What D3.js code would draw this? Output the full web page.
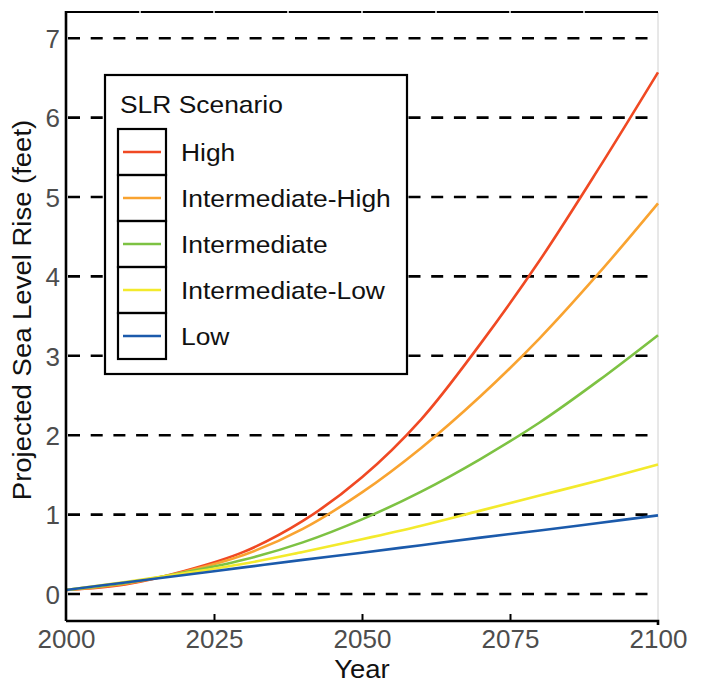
<!DOCTYPE html>
<html lang="en">
<head>
<meta charset="UTF-8">
<title>SLR Scenarios</title>
<script src="https://cdn.jsdelivr.net/npm/d3@7"></script>
<style>
  body { margin: 0; background: #fff; }
  text { font-family: 'Liberation Sans', Arial, sans-serif; }
</style>
</head>
<body>
<div id="chart"></div>
<script>
// data (feet)
const years = [2000, 2010, 2020, 2030, 2040, 2050, 2060, 2070, 2080, 2090, 2100]
const high    = [0.05, 0.12, 0.29, 0.53, 0.92, 1.47, 2.20, 3.15, 4.20, 5.36, 6.57]
const intHigh = [0.05, 0.13, 0.28, 0.49, 0.82, 1.28, 1.84, 2.49, 3.22, 4.04, 4.92]
const inter   = [0.05, 0.14, 0.27, 0.43, 0.65, 0.94, 1.29, 1.70, 2.16, 2.69, 3.26]
const intLow  = [0.05, 0.15, 0.26, 0.38, 0.53, 0.69, 0.86, 1.05, 1.24, 1.43, 1.63]
const low     = [0.05, 0.145, 0.24, 0.335, 0.43, 0.52, 0.615, 0.71, 0.80, 0.895, 0.99]

const names = ["High", "Intermediate-High", "Intermediate", "Intermediate-Low", "Low"]
const colors = ["#f04923", "#f9a330", "#7dc243", "#f3ea2c", "#1b5aab"]
const series = [high, intHigh, inter, intLow, low]

const xTicks = [2000, 2025, 2050, 2075, 2100]
const yTicks = [0, 1, 2, 3, 4, 5, 6, 7]
const topGaps = [2012.5, 2025, 2037.5, 2050, 2062.5, 2075, 2087.5]

const width = 704, height = 683
const margin = { top: 12, right: 46, bottom: 62, left: 66 }
const stretch = 1.1   // text in the original is a bit wide

const x = d3.scaleLinear().domain([2000, 2100]).range([margin.left, width - margin.right])
const y = d3.scaleLinear().domain([-0.34, 7.33]).range([height - margin.bottom, margin.top])

const svg = d3.select("#chart").append("svg")
    .attr("width", width)
    .attr("height", height)

// dashed gridlines
svg.append("g")
    .selectAll("line")
    .data(yTicks)
    .enter().append("line")
    .attr("x1", x(2000) + 2)
    .attr("x2", x(2100) - 8)
    .attr("y1", d => y(d))
    .attr("y2", d => y(d))
    .attr("stroke", "#000")
    .attr("stroke-width", 2.6)
    .attr("stroke-dasharray", "12,10.7")

// right border, light grey
svg.append("line")
    .attr("x1", x(2100)).attr("x2", x(2100))
    .attr("y1", y.range()[1]).attr("y2", y.range()[0])
    .attr("stroke", "#d0d0d0")
    .attr("stroke-width", 1)

// top border with small white gaps
svg.append("line")
    .attr("x1", x(2000)).attr("x2", x(2100))
    .attr("y1", margin.top).attr("y2", margin.top)
    .attr("stroke", "#000")
    .attr("stroke-width", 2)
svg.append("g")
    .selectAll("line")
    .data(topGaps)
    .enter().append("line")
    .attr("x1", d => x(d)).attr("x2", d => x(d))
    .attr("y1", margin.top - 2).attr("y2", margin.top + 2)
    .attr("stroke", "#fff")
    .attr("stroke-width", 1.5)

// curves
const line = d3.line()
    .x((d, i) => x(years[i]))
    .y(d => y(d))
    .curve(d3.curveCatmullRom.alpha(0.5))

svg.append("g")
    .selectAll("path")
    .data(series)
    .enter().append("path")
    .attr("d", line)
    .attr("fill", "none")
    .attr("stroke", (d, i) => colors[i])
    .attr("stroke-width", 2.6)

// bottom axis
const xAxis = svg.append("g")
    .attr("transform", `translate(0,${height - margin.bottom})`)
    .call(d3.axisBottom(x).tickValues(xTicks).tickFormat(d3.format("d")).tickSize(-7))
xAxis.select(".domain").attr("stroke-width", 2.6).attr("d", `M${x(2000)},0H${x(2100)}V4`)
xAxis.selectAll(".tick line").attr("stroke-width", 2)
    .filter(d => d === 2000 || d === 2100).remove()
xAxis.selectAll(".tick text")
    .attr("font-size", 26).attr("fill", "#4d4d4d")
    .attr("font-family", "'Liberation Sans', Arial, sans-serif")
    .attr("y", 27).attr("dy", 0)

// left axis
const yAxis = svg.append("g")
    .attr("transform", `translate(${margin.left},0)`)
    .call(d3.axisLeft(y).tickValues(yTicks).tickSize(0).tickPadding(6))
yAxis.select(".domain").attr("stroke-width", 2.6)
    .attr("d", `M0,${y.range()[0]}V${y.range()[1] - 1}`)
yAxis.selectAll(".tick text")
    .attr("font-size", 26).attr("fill", "#4d4d4d")
    .attr("font-family", "'Liberation Sans', Arial, sans-serif")
    .attr("dy", "0.36em")

// axis titles
svg.append("text")
    .attr("transform", `translate(${x(2050)},678) scale(${stretch},1)`)
    .attr("text-anchor", "middle")
    .attr("font-size", 25)
    .attr("fill", "#111")
    .text("Year")

svg.append("text")
    .attr("transform", `translate(31,310) rotate(-90) scale(${stretch},1)`)
    .attr("text-anchor", "middle")
    .attr("font-size", 25)
    .attr("fill", "#111")
    .text("Projected Sea Level Rise (feet)")

// legend
const legend = svg.append("g")
legend.append("rect")
    .attr("x", 105).attr("y", 75)
    .attr("width", 302).attr("height", 299)
    .attr("fill", "#fff")
    .attr("stroke", "#000")
    .attr("stroke-width", 2.2)

legend.append("text")
    .attr("transform", `translate(120,113) scale(${stretch},1)`)
    .attr("font-size", 24)
    .attr("fill", "#111")
    .text("SLR Scenario")

const rowH = 46
const rows = legend.selectAll("g.row")
    .data(names)
    .enter().append("g")
    .attr("class", "row")
    .attr("transform", (d, i) => `translate(0,${129 + i * rowH})`)

rows.append("rect")
    .attr("x", 118).attr("y", 0)
    .attr("width", 48).attr("height", rowH)
    .attr("fill", "none")
    .attr("stroke", "#000")
    .attr("stroke-width", 2.2)

rows.append("line")
    .attr("x1", 123).attr("x2", 161)
    .attr("y1", rowH / 2).attr("y2", rowH / 2)
    .attr("stroke", (d, i) => colors[i])
    .attr("stroke-width", 2.4)

rows.append("text")
    .attr("transform", `translate(181,${rowH / 2 + 9}) scale(${stretch},1)`)
    .attr("font-size", 24)
    .attr("fill", "#111")
    .text(d => d)
</script>
</body>
</html>
